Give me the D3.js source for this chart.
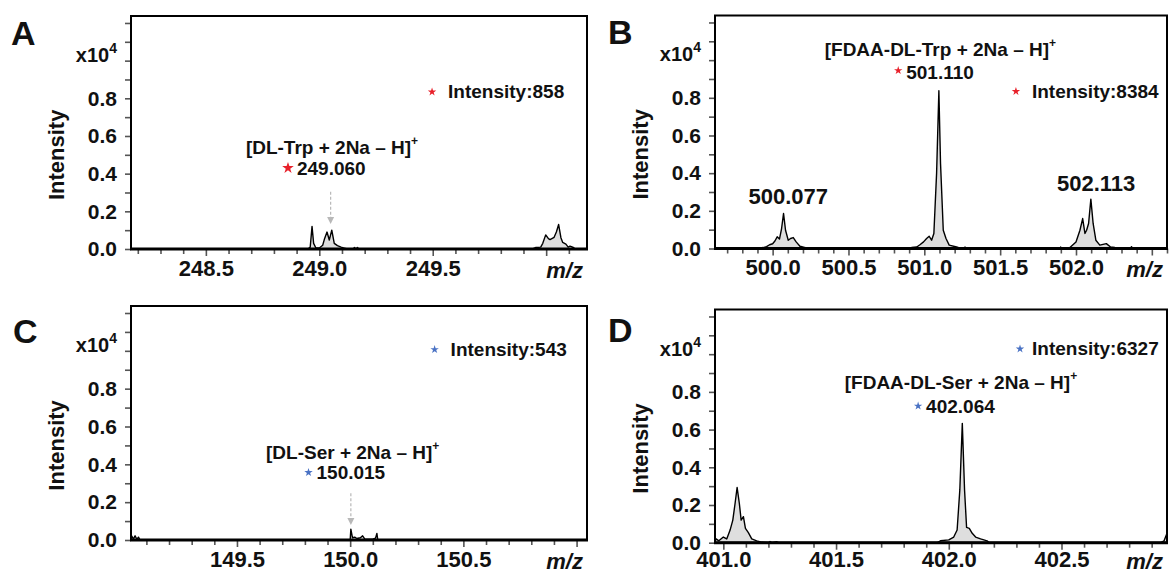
<!DOCTYPE html>
<html><head><meta charset="utf-8">
<script src="https://cdn.jsdelivr.net/npm/d3@7"></script>
<style>
body{margin:0;background:#fff;}
svg text{font-family:"Liberation Sans",Arial,Helvetica,sans-serif;font-weight:bold;fill:#111;}
</style></head><body>
<svg id="chart" width="1172" height="574"></svg>
<script>
// ---------- DATA (intensity in units of x10^4) ----------
const mzA  = [248.17,248.95,248.96,248.968,248.975,248.985,249.0,249.015,249.022,249.034,249.044,249.055,249.066,249.08,249.096,249.11,249.125,249.15,249.155,249.162,249.168,249.175,249.94,249.955,249.976,249.985,249.998,250.01,250.017,250.035,250.045,250.055,250.065,250.073,250.087,250.097,250.105,250.12,250.13,250.18];
const intA = [0,0,0.01,0.12,0.03,0.005,0.005,0.02,0.05,0.09,0.048,0.10,0.03,0.018,0.01,0.005,0,0,0.008,0,0.008,0,0,0.008,0.01,0.03,0.075,0.055,0.05,0.062,0.09,0.13,0.06,0.035,0.026,0.01,0.015,0.008,0,0];

const mzB  = [499.62,499.9,499.938,499.96,499.98,500.0,500.015,500.03,500.045,500.059,500.072,500.085,500.103,500.118,500.136,500.155,500.18,500.21,500.241,500.9,500.916,500.95,500.971,500.995,501.015,501.032,501.048,501.063,501.081,501.096,501.107,501.125,501.143,501.164,501.213,501.24,501.262,501.268,501.275,501.895,501.899,501.905,501.95,501.96,502.0,502.026,502.044,502.059,502.07,502.083,502.098,502.113,502.131,502.157,502.2,502.228,502.256,502.28,502.36,502.366,502.372,502.6];
const intB = [0,0,0.005,0.01,0.02,0.025,0.04,0.062,0.05,0.106,0.186,0.097,0.044,0.053,0.058,0.035,0.012,0.006,0,0,0.005,0.008,0.02,0.035,0.053,0.065,0.044,0.08,0.4,0.838,0.45,0.097,0.053,0.018,0.008,0,0,0.008,0,0,0.008,0,0,0.005,0.035,0.097,0.159,0.08,0.097,0.133,0.262,0.133,0.044,0.018,0.026,0.008,0.005,0,0,0.01,0,0];

const mzC  = [149.03,149.036,149.042,149.05,149.058,149.065,149.072,150.0,150.003,150.01,150.02,150.03,150.045,150.055,150.065,150.1,150.112,150.118,150.122,151.05];
const intC = [0,0.02,0.005,0.022,0.004,0.015,0,0,0.057,0.012,0.015,0.008,0.012,0.022,0.005,0.004,0.01,0.035,0,0];

const mzD  = [400.96,400.968,400.98,401.0,401.015,401.03,401.042,401.052,401.061,401.071,401.079,401.089,401.098,401.111,401.126,401.148,401.165,401.2,401.207,401.215,401.237,401.245,401.95,401.963,402.0,402.022,402.037,402.049,402.06,402.07,402.079,402.091,402.104,402.119,402.141,402.17,402.18,402.94,402.955,402.968];
const intD = [0,0.02,0.01,0.03,0.02,0.067,0.12,0.208,0.293,0.208,0.12,0.138,0.076,0.053,0.02,0.01,0.004,0,0.006,0,0.005,0,0,0.01,0.015,0.03,0.067,0.28,0.633,0.28,0.081,0.076,0.05,0.03,0.02,0.01,0,0,0.01,0.05];

const yTickLabels = [0.0,0.2,0.4,0.6,0.8];
const xLabelsA = [248.5,249.0,249.5];
const xLabelsB = [500.0,500.5,501.0,501.5,502.0];
const xLabelsC = [149.5,150.0,150.5];
const xLabelsD = [401.0,401.5,402.0,402.5];

const ionNames   = ["[DL-Trp + 2Na \u2013 H]","[FDAA-DL-Trp + 2Na \u2013 H]","[DL-Ser + 2Na \u2013 H]","[FDAA-DL-Ser + 2Na \u2013 H]"];
const ionMz      = ["249.060","501.110","150.015","402.064"];
const intensities = [858,8384,543,6327];
const peakLabelsB = ["500.077","502.113"];

// ---------- LAYOUT ----------
const RED = "#e8202a", BLUE = "#4a72c4";
const panels = [
  {letter:"A", mz:mzA, v:intA, xd:[248.17,250.18], labels:xLabelsA, L:131, T:16, R:587, B:249, lx:11, ly:45, color:RED, pad:11, mzY:21,
   ion:{mz:249.056,v:0.543}, star:{mz:248.862,v:0.43,size:42}, inten:{mz:249.497,v:0.834,dx:16}, arrow:{mz:249.05,from:0.304,to:0.133}},
  {letter:"B", mz:mzB, v:intB, xd:[499.62,502.6], labels:xLabelsB, L:715, T:15.5, R:1167, B:248.5, lx:608, ly:44, color:RED, pad:11, mzY:21,
   ion:{mz:501.106,v:1.061}, star:{mz:500.828,v:0.945,size:22}, inten:{mz:501.604,v:0.834,dx:16},
   peaks:[{mz:500.103,v:0.274},{mz:502.133,v:0.345}]},
  {letter:"C", mz:mzC, v:intC, xd:[149.032,151.046], labels:xLabelsC, L:131, T:306, R:587, B:540, lx:13, ly:343, color:BLUE, pad:11, mzY:21,
   ion:{mz:150.011,v:0.467}, star:{mz:149.816,v:0.357,size:22}, inten:{mz:150.373,v:1.007,dx:16}, arrow:{mz:150.003,from:0.247,to:0.079}},
  {letter:"D", mz:mzD, v:intD, xd:[400.963,402.968], labels:xLabelsD, L:715, T:309.5, R:1167, B:542.7, lx:608, ly:342, color:BLUE, pad:9, mzY:19,
   ion:{mz:402.054,v:0.854}, star:{mz:401.864,v:0.725,size:22}, inten:{mz:402.316,v:1.028,dx:12}}
];

const svg = d3.select("#chart");
const defs = svg.append("defs");

panels.forEach((p,i)=>{
  const x = d3.scaleLinear().domain(p.xd).range([p.L,p.R]);
  const y = d3.scaleLinear().domain([0,1.237]).range([p.B,p.T]);
  const g = svg.append("g");
  const data = p.mz.map((m,k)=>({mz:m,v:p.v[k]}));

  defs.append("clipPath").attr("id","clip"+i).append("rect")
    .attr("x",p.L).attr("y",p.T).attr("width",p.R-p.L).attr("height",p.B-p.T);
  const sg = g.append("g").attr("clip-path",`url(#clip${i})`);
  sg.append("path").datum(data)
    .attr("d",d3.area().x(d=>x(d.mz)).y0(y(0)).y1(d=>y(d.v)))
    .attr("fill","#dedede");
  sg.append("path").datum(data)
    .attr("d",d3.line().x(d=>x(d.mz)).y(d=>y(d.v)))
    .attr("fill","none").attr("stroke","#000").attr("stroke-width",1.4).attr("stroke-linejoin","round");

  // y axis ticks (minor every 0.1, labels at 0.2 steps)
  const yMinor = d3.range(0,1.2001,0.1);
  const ya = g.append("g").attr("transform",`translate(${p.L},0)`)
    .call(d3.axisLeft(y).tickValues(yMinor).tickSize(6).tickFormat(""));
  ya.select(".domain").remove();
  ya.selectAll("line").attr("stroke","#555").attr("stroke-width",1.6);
  const yl = g.append("g").attr("transform",`translate(${p.L},0)`)
    .call(d3.axisLeft(y).tickValues(yTickLabels).tickSize(0).tickPadding(14).tickFormat(d3.format(".1f")));
  yl.select(".domain").remove();
  yl.selectAll("text").style("font-size","21px").attr("fill","#111").attr("font-family",null);

  // x axis ticks
  const start = Math.ceil(p.xd[0]*10-1e-6), end = Math.floor(p.xd[1]*10+1e-6);
  const xMinor = d3.range(start,end+1).map(k=>k/10).filter(t=>Math.abs(t*2-Math.round(t*2))>1e-6);
  const xMajor = d3.range(start,end+1).map(k=>k/10).filter(t=>Math.abs(t*2-Math.round(t*2))<1e-6);
  const xa = g.append("g").attr("transform",`translate(0,${p.B})`)
    .call(d3.axisBottom(x).tickValues(xMinor).tickSize(5).tickFormat(""));
  xa.select(".domain").remove();
  xa.selectAll("line").attr("stroke","#555").attr("stroke-width",1.6);
  const xm = g.append("g").attr("transform",`translate(0,${p.B})`)
    .call(d3.axisBottom(x).tickValues(xMajor).tickSize(7).tickFormat(""));
  xm.select(".domain").remove();
  xm.selectAll("line").attr("stroke","#555").attr("stroke-width",1.6);
  const xl = g.append("g").attr("transform",`translate(0,${p.B})`)
    .call(d3.axisBottom(x).tickValues(p.labels).tickSize(0).tickPadding(p.pad).tickFormat(d3.format(".1f")));
  xl.select(".domain").remove();
  xl.selectAll("text").style("font-size","22px").attr("fill","#111").attr("font-family",null);

  // frame
  g.append("rect").attr("x",p.L).attr("y",p.T).attr("width",p.R-p.L).attr("height",p.B-p.T)
    .attr("fill","none").attr("stroke","#000").attr("stroke-width",2);
  g.append("line").attr("x1",p.L-1).attr("x2",p.R+1).attr("y1",y(0)).attr("y2",y(0))
    .attr("stroke","#000").attr("stroke-width",3);

  // axis titles
  const xt = g.append("text").attr("x",p.L-14).attr("y",y(1.03)).attr("text-anchor","end")
    .attr("dominant-baseline","central").style("font-size","20px");
  xt.append("tspan").text("x10");
  xt.append("tspan").attr("dy",-7).style("font-size","14px").text("4");
  g.append("text").attr("transform",`translate(${p.L-75},${y(0.5)}) rotate(-90)`)
    .attr("text-anchor","middle").attr("dominant-baseline","central").style("font-size","22px").text("Intensity");
  g.append("text").attr("x",p.R-4).attr("y",p.B+p.mzY).attr("text-anchor","end")
    .attr("dominant-baseline","central").style("font-size","22px").style("font-style","italic").text("m/z");
  g.append("text").attr("x",p.lx).attr("y",p.ly).style("font-size","34px").text(p.letter);

  // annotations
  const it = g.append("text").attr("x",x(p.ion.mz)).attr("y",y(p.ion.v)).attr("text-anchor","middle")
    .attr("dominant-baseline","central").style("font-size","19px");
  it.append("tspan").text(ionNames[i]);
  it.append("tspan").attr("dy",-6).style("font-size","12px").text("+");

  g.append("path").attr("d",d3.symbol(d3.symbolStar,p.star.size))
    .attr("transform",`translate(${x(p.star.mz)},${y(p.star.v)})`).attr("fill",p.color);
  g.append("text").attr("x",x(p.star.mz)+(p.star.size>30?9:8)).attr("y",y(p.star.v)+(i===1?2:0))
    .attr("dominant-baseline","central").style("font-size","19px").text(ionMz[i]);

  g.append("path").attr("d",d3.symbol(d3.symbolStar,22))
    .attr("transform",`translate(${x(p.inten.mz)},${y(p.inten.v)})`).attr("fill",p.color);
  g.append("text").attr("x",x(p.inten.mz)+p.inten.dx).attr("y",y(p.inten.v))
    .attr("dominant-baseline","central").style("font-size","19px").text("Intensity:"+intensities[i]);

  if(p.arrow){
    const ax = x(p.arrow.mz), tip = y(p.arrow.to);
    g.append("line").attr("x1",ax).attr("x2",ax)
      .attr("y1",y(p.arrow.from)).attr("y2",tip-7)
      .attr("stroke","#b8b8b8").attr("stroke-width",1.2).attr("stroke-dasharray","3,2");
    g.append("path").attr("d",`M${ax-3.5},${tip-7}L${ax+3.5},${tip-7}L${ax},${tip}Z`).attr("fill","#b8b8b8");
  }
  if(p.peaks){
    p.peaks.forEach((pk,k)=>{
      g.append("text").attr("x",x(pk.mz)).attr("y",y(pk.v)).attr("text-anchor","middle")
        .attr("dominant-baseline","central").style("font-size","22px").text(peakLabelsB[k]);
    });
  }
});
</script>
</body></html>
